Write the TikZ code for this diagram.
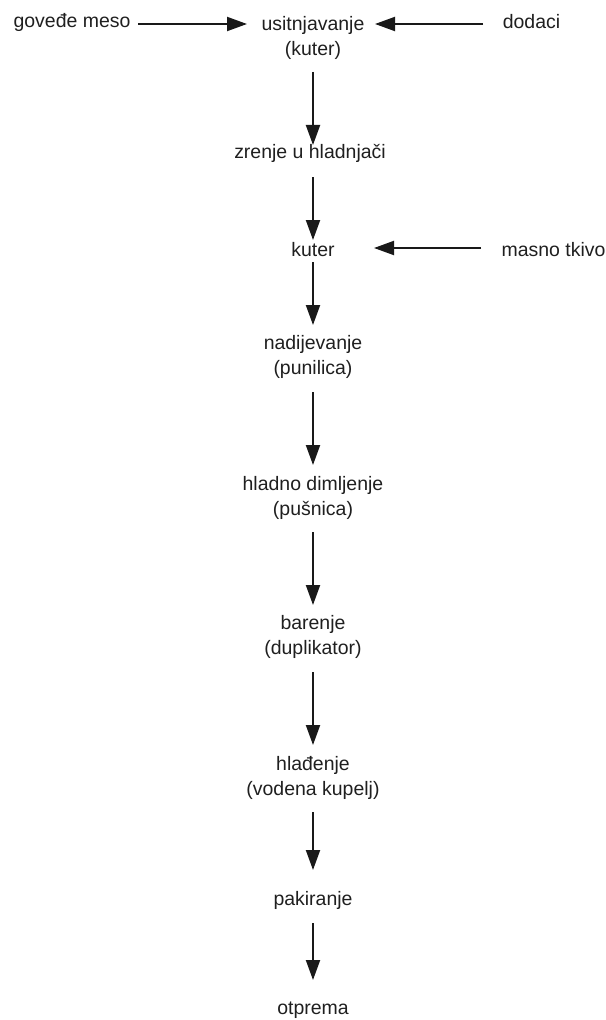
\documentclass[tikz,border=0pt]{standalone}
\usepackage{fontspec}
\setmainfont{Liberation Sans}
\usetikzlibrary{arrows.meta,calc}
\tikzset{
  lbl/.style={inner sep=0pt, align=center, font=\fontsize{14.6}{18.75}\selectfont, text=black!88},
  arr/.style={line width=1.5pt, draw=black!90, -{Triangle[length=15pt,width=10.5pt]}}
}
\begin{document}
\begin{tikzpicture}[x=0.75pt,y=-0.75pt]
\useasboundingbox (0,0) rectangle (606,1020);
\node[lbl] (gm) at (72,22) {goveđe meso};
\node[lbl] (us) at (313,37.5) {usitnjavanje\\(kuter)};
\node[lbl] (dd) at (531.5,22) {dodaci};
\node[lbl] (zr) at (310,153) {zrenje u hladnjači};
\node[lbl] (ku) at (313,250) {kuter};
\node[lbl] (mt) at (553.5,250) {masno tkivo};
\node[lbl] (nd) at (313,357) {nadijevanje\\(punilica)};
\node[lbl] (hd) at (313,497.5) {hladno dimljenje\\(pušnica)};
\node[lbl] (br) at (313,636.5) {barenje\\(duplikator)};
\node[lbl] (hl) at (313,778) {hlađenje\\(vodena kupelj)};
\node[lbl] (pk) at (313,900) {pakiranje};
\node[lbl] (ot) at (313,1010) {otprema};
\draw[arr] ($(gm)+(66,2)$) -- ($(us)+(-66,-13.5)$);
\draw[arr] ($(dd)+(-48.5,2)$) -- ($(us)+(62,-13.5)$);
\draw[arr] ($(us)+(0,34.5)$) -- ($(zr)+(3,-8)$);
\draw[arr] ($(zr)+(3,24)$) -- ($(ku)+(0,-10)$);
\draw[arr] ($(mt)+(-72.5,-2)$) -- ($(ku)+(61,-2)$);
\draw[arr] ($(ku)+(0,12)$) -- ($(nd)+(0,-32)$);
\draw[arr] ($(nd)+(0,35)$) -- ($(hd)+(0,-32.5)$);
\draw[arr] ($(hd)+(0,34.5)$) -- ($(br)+(0,-31.5)$);
\draw[arr] ($(br)+(0,35.5)$) -- ($(hl)+(0,-33)$);
\draw[arr] ($(hl)+(0,34)$) -- ($(pk)+(0,-30)$);
\draw[arr] ($(pk)+(0,23)$) -- ($(ot)+(0,-30)$);
\end{tikzpicture}
\end{document}
